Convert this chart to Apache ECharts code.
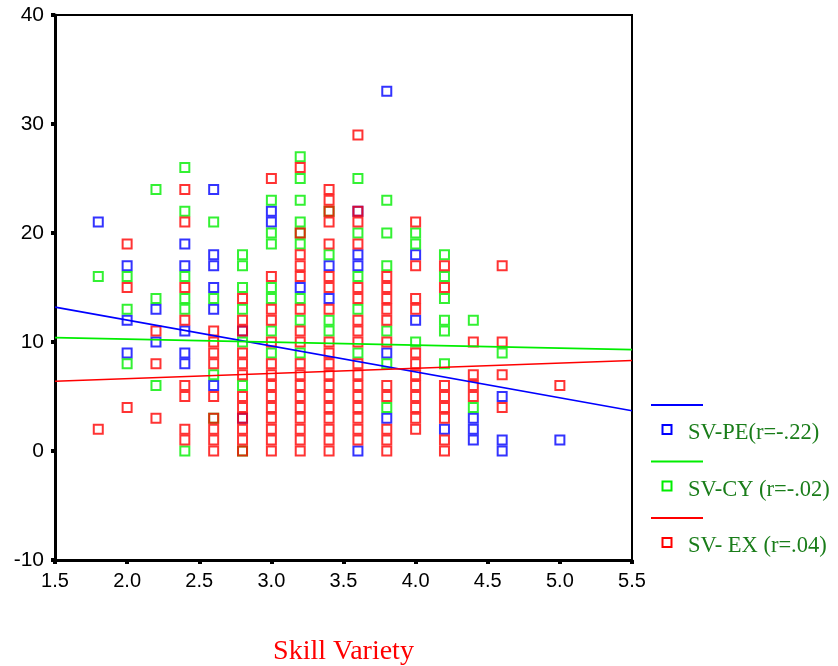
<!DOCTYPE html>
<html>
<head>
<meta charset="utf-8">
<script src="https://cdn.jsdelivr.net/npm/echarts@6/dist/echarts.min.js"></script>
<style>
html,body{margin:0;padding:0;background:#fff;}
#chart{width:838px;height:666px;}
</style>
</head>
<body>
<div id="chart"></div>
<script>
// ---- data ----
const xTicks = [1.5, 2.0, 2.5, 3.0, 3.5, 4.0, 4.5, 5.0, 5.5];
const yTicks = [-10, 0, 10, 20, 30, 40];
const seriesNames = ['SV-PE(r=-.22)', 'SV-CY (r=-.02)', 'SV- EX (r=.04)'];
const xTitle = 'Skill Variety';

// SV-PE (blue)
const pePoints = [
  [1.8,21],
  [2.0,17],[2.0,12],[2.0,9],
  [2.2,13],[2.2,10],
  [2.4,19],[2.4,17],[2.4,11],[2.4,9],[2.4,8],
  [2.6,24],[2.6,18],[2.6,17],[2.6,15],[2.6,13],[2.6,6],
  [2.8,11],[2.8,3],
  [3.0,22],[3.0,21],
  [3.2,15],
  [3.4,17],[3.4,14],
  [3.6,22],[3.6,18],[3.6,17],[3.6,0],
  [3.8,33],[3.8,9],[3.8,3],
  [4.0,18],[4.0,12],
  [4.2,2],
  [4.4,3],[4.4,2],[4.4,1],
  [4.6,5],[4.6,1],[4.6,0],
  [5.0,1]
];
// SV-CY (green)
const cyPoints = [
  [1.8,16],
  [2.0,16],[2.0,13],[2.0,8],
  [2.2,24],[2.2,14],[2.2,6],
  [2.4,26],[2.4,22],[2.4,16],[2.4,14],[2.4,13],[2.4,0],
  [2.6,21],[2.6,14],[2.6,7],[2.6,3],
  [2.8,18],[2.8,17],[2.8,15],[2.8,13],[2.8,10],[2.8,6],[2.8,0],
  [3.0,23],[3.0,20],[3.0,19],[3.0,15],[3.0,14],[3.0,11],[3.0,9],
  [3.2,27],[3.2,25],[3.2,23],[3.2,21],[3.2,20],[3.2,19],[3.2,14],[3.2,12],[3.2,9],
  [3.4,22],[3.4,18],[3.4,12],[3.4,11],
  [3.6,25],[3.6,20],[3.6,16],[3.6,13],[3.6,9],
  [3.8,23],[3.8,20],[3.8,17],[3.8,11],[3.8,8],[3.8,4],
  [4.0,20],[4.0,19],[4.0,10],
  [4.2,18],[4.2,16],[4.2,14],[4.2,12],[4.2,11],[4.2,8],
  [4.4,12],[4.4,4],
  [4.6,9]
];
// SV-EX (red)
const exPoints = [
  [1.8,2],
  [2.0,19],[2.0,15],[2.0,4],
  [2.2,11],[2.2,8],[2.2,3],
  [2.4,24],[2.4,21],[2.4,15],[2.4,12],[2.4,6],[2.4,5],[2.4,2],[2.4,1],
  [2.6,11],[2.6,10],[2.6,9],[2.6,8],[2.6,5],[2.6,3],[2.6,2],[2.6,1],[2.6,0],
  [2.8,14],[2.8,12],[2.8,11],[2.8,9],[2.8,8],[2.8,7],[2.8,5],[2.8,4],[2.8,3],[2.8,2],[2.8,1],[2.8,0],
  [3.0,25],[3.0,16],[3.0,13],[3.0,12],[3.0,10],[3.0,8],[3.0,7],[3.0,6],[3.0,5],[3.0,4],[3.0,3],[3.0,2],[3.0,1],[3.0,0],
  [3.2,26],[3.2,20],[3.2,18],[3.2,17],[3.2,16],[3.2,13],[3.2,11],[3.2,10],[3.2,8],[3.2,7],[3.2,6],[3.2,5],[3.2,4],[3.2,3],[3.2,2],[3.2,1],[3.2,0],
  [3.4,24],[3.4,23],[3.4,22],[3.4,21],[3.4,19],[3.4,16],[3.4,15],[3.4,13],[3.4,10],[3.4,9],[3.4,8],[3.4,7],[3.4,6],[3.4,5],[3.4,4],[3.4,3],[3.4,2],[3.4,1],[3.4,0],
  [3.6,29],[3.6,22],[3.6,21],[3.6,19],[3.6,15],[3.6,14],[3.6,12],[3.6,11],[3.6,10],[3.6,8],[3.6,7],[3.6,6],[3.6,5],[3.6,4],[3.6,3],[3.6,2],[3.6,1],
  [3.8,16],[3.8,15],[3.8,14],[3.8,13],[3.8,12],[3.8,10],[3.8,6],[3.8,5],[3.8,2],[3.8,1],[3.8,0],
  [4.0,21],[4.0,17],[4.0,14],[4.0,13],[4.0,9],[4.0,8],[4.0,7],[4.0,6],[4.0,5],[4.0,4],[4.0,3],[4.0,2],
  [4.2,17],[4.2,15],[4.2,6],[4.2,5],[4.2,4],[4.2,3],[4.2,1],[4.2,0],
  [4.4,10],[4.4,7],[4.4,6],[4.4,5],
  [4.6,17],[4.6,10],[4.6,7],[4.6,4],
  [5.0,6]
];
// fitted lines (value at x = 1.5 and x = 5.5)
const peFit = [[1.5,13.2],[5.5,3.7]];
const cyFit = [[1.5,10.4],[5.5,9.3]];
const exFit = [[1.5,6.4],[5.5,8.3]];

const colors = ['#0000ff', '#00ee00', '#ff0000'];
const legendTextColor = '#1a7d1a';

const chart = echarts.init(document.getElementById('chart'), null, {renderer: 'canvas'});

function scatter(name, data, color) {
  return {
    name: name, type: 'scatter', data: data,
    symbol: 'rect', symbolSize: 9,
    itemStyle: {color: 'rgba(0,0,0,0)', borderColor: color, borderWidth: 2},
    emphasis: {disabled: true}, z: 3
  };
}
function fit(name, data, color) {
  return {
    name: name, type: 'line', data: data,
    symbol: 'none', showSymbol: false,
    lineStyle: {color: color, width: 1.6},
    itemStyle: {color: color},
    emphasis: {disabled: true}, z: 5, silent: true
  };
}

// legend drawn as graphic (line row, then marker + label row)
const legendGraphics = [];
seriesNames.forEach((nm, i) => {
  const base = 405 + i * 56.5;
  legendGraphics.push({
    type: 'line', silent: true,
    shape: {x1: 651, y1: base, x2: 703, y2: base},
    style: {stroke: colors[i], lineWidth: 2}
  });
  legendGraphics.push({
    type: 'rect', silent: true,
    shape: {x: 662.5, y: base + 20, width: 9, height: 9},
    style: {fill: 'rgba(0,0,0,0)', stroke: colors[i], lineWidth: 2}
  });
  legendGraphics.push({
    type: 'text', silent: true, left: 688, top: base + 17,
    style: {text: nm, fill: legendTextColor, font: '22.5px "Liberation Serif"'}
  });
});

const option = {
  backgroundColor: '#fff',
  animation: false,
  grid: {left: 55, top: 15, width: 577, height: 545, show: true, borderColor: '#000', borderWidth: 2,
    backgroundColor: 'transparent', outerBoundsMode: 'none', containLabel: false},
  xAxis: {
    type: 'value', min: xTicks[0], max: xTicks[xTicks.length-1], interval: 0.5,
    name: xTitle, nameLocation: 'middle', nameGap: 78,
    nameTextStyle: {color: '#ff0000', fontFamily: 'Liberation Serif', fontSize: 28},
    axisLine: {show: true, onZero: false, lineStyle: {color: '#000', width: 3}},
    axisTick: {show: true, length: 4, lineStyle: {color: '#000', width: 4}},
    axisLabel: {color: '#000', fontFamily: 'Liberation Sans', fontSize: 20, margin: 11,
      formatter: v => v.toFixed(1)},
    splitLine: {show: false}
  },
  yAxis: {
    type: 'value', min: yTicks[0], max: yTicks[yTicks.length-1], interval: 10,
    axisLine: {show: true, onZero: false, lineStyle: {color: '#000', width: 3}},
    axisTick: {show: true, length: 4, lineStyle: {color: '#000', width: 4}},
    axisLabel: {color: '#000', fontFamily: 'Liberation Sans', fontSize: 21, margin: 11},
    splitLine: {show: false}
  },
  graphic: legendGraphics,
  series: [
    scatter(seriesNames[0], pePoints, colors[0]),
    scatter(seriesNames[1], cyPoints, colors[1]),
    scatter(seriesNames[2], exPoints, colors[2]),
    fit('fitPE', peFit, colors[0]),
    fit('fitCY', cyFit, colors[1]),
    fit('fitEX', exFit, colors[2])
  ]
};
chart.setOption(option);
</script>
</body>
</html>
